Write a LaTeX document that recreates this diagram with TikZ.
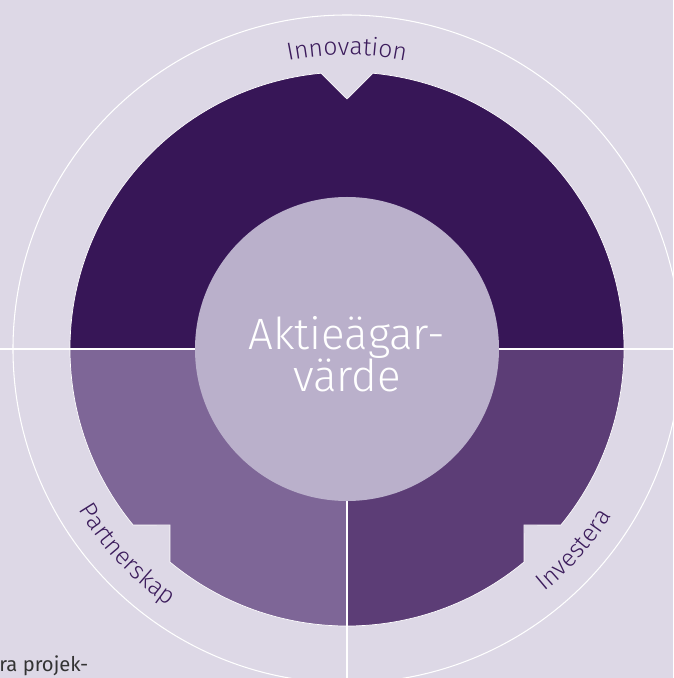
\documentclass[tikz,border=0pt]{standalone}
\usepackage{fontspec}
\setmainfont{Fira Sans}[UprightFont={* Light}]
\newfontfamily\brodtext{Fira Sans}
\usetikzlibrary{decorations.text}

\definecolor{grund}{HTML}{DDD8E6}
\definecolor{morkLila}{HTML}{371657}
\definecolor{ljusLila}{HTML}{7E6697}
\definecolor{mellanLila}{HTML}{5C3D76}
\definecolor{kärna}{HTML}{BAB0CB}
\definecolor{etikett}{HTML}{3C1C5C}

\tikzset{
  sektor/.style={draw=white, line width=0.4pt},
  skiljelinje/.style={white, line width=1.2pt},
  ringtext/.style={decorate, decoration={text along path, text align=center,
      text format delimiters={[}{]}}},
}

\begin{document}
\begin{tikzpicture}[x=0.02cm, y=0.02cm]
  % 背景与边界（圆心在原点）
  \fill[grund] (-347,-329) rectangle (326,349);
  \useasboundingbox (-347,-329) rectangle (326,349);

  % 外圈细线
  \draw[white, line width=0.6pt] (0,0) circle (334);

  % 上半部分：Innovation（顶部 V 形缺口）
  \fill[morkLila, sektor] (180:277) arc[start angle=180, end angle=95.39, radius=277]
    -- (0,250) -- (84.61:277) arc[start angle=84.61, end angle=0, radius=277] -- cycle;

  % 左下：Partnerskap（台阶形缺口）
  \fill[ljusLila, sektor] (0,0) -- (180:277) arc[start angle=180, end angle=219.45, radius=277]
    -- (-177,-176) -- (230.29:277) arc[start angle=230.29, end angle=270, radius=277] -- cycle;

  % 右下：Investera
  \fill[mellanLila, sektor] (0,0) -- (270:277) arc[start angle=270, end angle=309.71, radius=277]
    -- (177,-176) -- (320.55:277) arc[start angle=320.55, end angle=360, radius=277] -- cycle;

  % 分隔白线
  \coordinate (V) at (-347,0);
  \coordinate (H) at (326,0);
  \coordinate (U) at (0,-329);
  \draw[skiljelinje] (V) -- (H);
  \draw[skiljelinje] (0,0) -- (U);

  % 中心圆
  \fill[kärna] (0,0) circle (152);
  \node[white, align=center, font=\fontsize{25}{24}\selectfont] (mitte) at (0,-5)
    {Aktieägar-\\värde};

  % 弧形标签
  \path[ringtext, decoration={text={[\fontsize{14}{16}\selectfont\color{etikett}]Innovation}}]
    (115:294) arc[start angle=115, end angle=65, radius=294];
  \path[ringtext, decoration={text={[\fontsize{14}{16}\selectfont\color{etikett}]Partnerskap}}]
    (196:313) arc[start angle=196, end angle=250, radius=313];
  \path[ringtext, decoration={text={[\fontsize{14}{16}\selectfont\color{etikett}]Investera}}]
    (294:313) arc[start angle=294, end angle=343, radius=313];

  % 左下角的正文片段
  \node[anchor=base west, inner sep=0pt, text=black!80, font=\brodtext\fontsize{11.5}{14}\selectfont]
    (brod) at (-348,-322) {ra projek-};
\end{tikzpicture}
\end{document}
